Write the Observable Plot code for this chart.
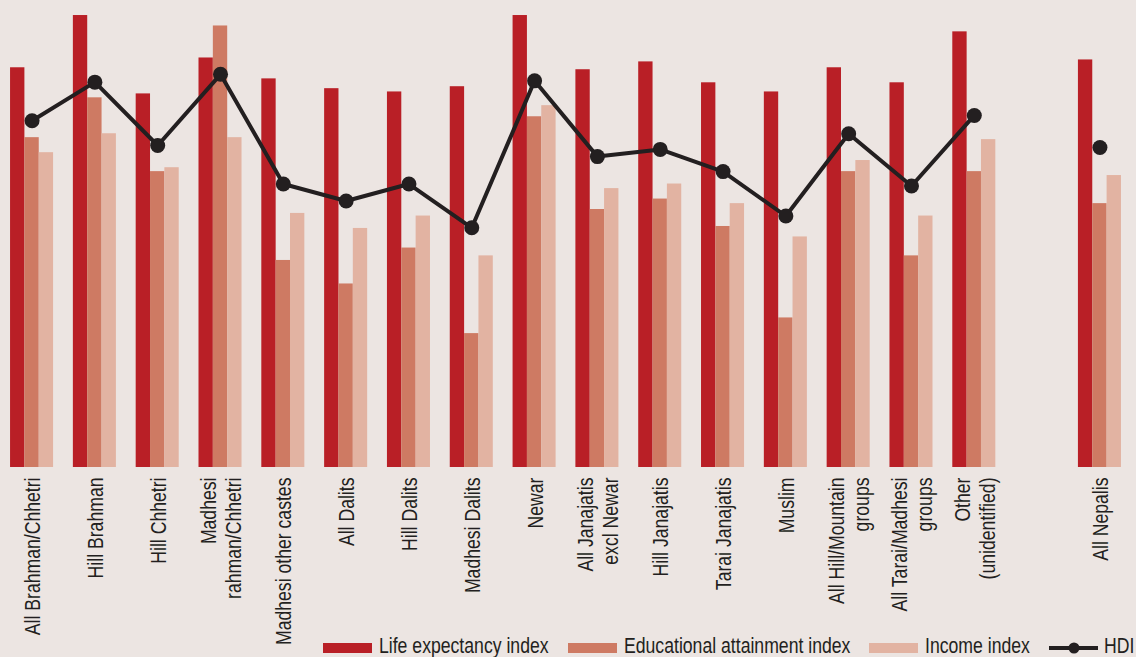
<!DOCTYPE html>
<html>
<head>
<meta charset="utf-8">
<script src="https://cdn.jsdelivr.net/npm/d3@7"></script>
<script src="https://cdn.jsdelivr.net/npm/@observablehq/plot@0.6"></script>
<style>
  html, body { margin: 0; padding: 0; background: #ece5e2; }
  body { position: relative; width: 1136px; height: 657px; overflow: hidden; }
  #chart svg { display: block; }
  #legend {
    position: absolute; left: 323px; top: 634px; height: 24px; line-height: 24px;
    display: flex; align-items: center; white-space: nowrap;
    font-family: "Liberation Sans", Arial, sans-serif;
    font-size: 21.5px; color: #231f20;
  }
  .item { display: flex; align-items: center; margin-right: 19px; }
  .sw { width: 49px; height: 10px; margin-right: 7px; position: relative; top: 2px; flex: none; }
  .hdi-sw { margin-right: 6px; position: relative; top: 2px; flex: none; }
  .lbl { display: inline-block; transform: scaleX(0.82); transform-origin: 0 50%; }
</style>
</head>
<body>
<div id="chart"></div>
<div id="legend"></div>
<script>
// ---- Data ----
const groups = [
  "All Brahman/Chhetri",
  "Hill Brahman",
  "Hill Chhetri",
  "Madhesi\nrahman/Chhetri",
  "Madhesi other castes",
  "All Dalits",
  "Hill Dalits",
  "Madhesi Dalits",
  "Newar",
  "All Janajatis\nexcl Newar",
  "Hill Janajatis",
  "Tarai Janajatis",
  "Muslim",
  "All Hill/Mountain\ngroups",
  "All Tarai/Madhesi\ngroups",
  "Other\n(unidentified)",
  "All Nepalis"
];
const lifeExpectancy = [0.612, 0.692, 0.572, 0.627, 0.595, 0.580, 0.575, 0.583, 0.692, 0.609, 0.621, 0.589, 0.575, 0.612, 0.589, 0.667, 0.624];
const educational    = [0.505, 0.566, 0.453, 0.676, 0.317, 0.281, 0.336, 0.205, 0.537, 0.395, 0.411, 0.369, 0.229, 0.453, 0.324, 0.453, 0.404];
const income         = [0.482, 0.511, 0.459, 0.505, 0.389, 0.366, 0.385, 0.324, 0.554, 0.427, 0.434, 0.404, 0.353, 0.470, 0.385, 0.502, 0.447];
const hdi            = [0.531, 0.590, 0.493, 0.602, 0.434, 0.408, 0.434, 0.367, 0.592, 0.476, 0.487, 0.453, 0.385, 0.511, 0.431, 0.539, 0.490];
const seriesNames = ["Life expectancy index", "Educational attainment index", "Income index", "HDI"];
const seriesColors = ["#b91f26", "#ce7a63", "#e2b3a2", "#231f20"];

// ---- Build table ----
const rows = groups.map((g, i) => ({
  group: g, life: lifeExpectancy[i], edu: educational[i], income: income[i], hdi: hdi[i]
}));
const GAP = "\u200b"; // empty slot before the national figure
const xDomain = [...groups.slice(0, 16), GAP, groups[16]];

const xOpts = { type: "band", domain: xDomain, paddingInner: 0.315, paddingOuter: 0.16, round: false };
const W = 1136, H = 636, mL = 0, mR = 5, mT = 0, mB = 169;
const bw = Plot.scale({ x: { ...xOpts, range: [mL, W - mR] } }).bandwidth;
const font = '"Liberation Sans", Arial, sans-serif';
const NARROW = 0.82;

const chart = Plot.plot({
  width: W, height: H,
  marginLeft: mL, marginRight: mR, marginTop: mT, marginBottom: mB,
  style: { background: "transparent", fontFamily: font, overflow: "visible" },
  x: { ...xOpts, axis: null },
  y: { domain: [0, 0.715], axis: null },
  marks: [
    Plot.barY(rows, { x: "group", y: "life", fill: seriesColors[0], insetRight: bw * 2 / 3 }),
    Plot.barY(rows, { x: "group", y: "edu", fill: seriesColors[1], insetLeft: bw / 3, insetRight: bw / 3 }),
    Plot.barY(rows, { x: "group", y: "income", fill: seriesColors[2], insetLeft: bw * 2 / 3 }),
    Plot.line(rows.slice(0, 16), { x: "group", y: "hdi", stroke: seriesColors[3], strokeWidth: 4 }),
    Plot.dot(rows, { x: "group", y: "hdi", r: 7.5, fill: seriesColors[3] }),
    Plot.text(rows, {
      x: "group", text: "group", frameAnchor: "bottom", rotate: -90,
      textAnchor: "end", lineAnchor: "middle", lineHeight: 1.15, dy: 10,
      fontSize: 21.5, fill: "#231f20", fontFamily: font, className: "xlabels"
    })
  ]
});
document.getElementById("chart").appendChild(chart);
// condense the category labels along their length (narrow typeface look)
chart.querySelectorAll(".xlabels text").forEach(t => {
  const tr = t.getAttribute("transform") || "";
  t.setAttribute("transform", tr + ` scale(${NARROW},1)`);
});

// ---- Legend ----
const legend = document.getElementById("legend");
seriesNames.forEach((name, i) => {
  const item = document.createElement("div");
  item.className = "item";
  if (i < 3) {
    const sw = document.createElement("span");
    sw.className = "sw";
    sw.style.background = seriesColors[i];
    item.appendChild(sw);
  } else {
    const ns = "http://www.w3.org/2000/svg";
    const s = document.createElementNS(ns, "svg");
    s.setAttribute("width", 49); s.setAttribute("height", 12);
    s.setAttribute("class", "hdi-sw");
    const ln = document.createElementNS(ns, "line");
    ln.setAttribute("x1", 0); ln.setAttribute("x2", 49); ln.setAttribute("y1", 6); ln.setAttribute("y2", 6);
    ln.setAttribute("stroke", seriesColors[3]); ln.setAttribute("stroke-width", 4);
    const c = document.createElementNS(ns, "circle");
    c.setAttribute("cx", 25); c.setAttribute("cy", 6); c.setAttribute("r", 5.5);
    c.setAttribute("fill", seriesColors[3]);
    s.appendChild(ln); s.appendChild(c);
    item.appendChild(s);
    item.style.marginRight = "0";
  }
  const t = document.createElement("span");
  t.className = "lbl";
  t.textContent = name;
  item.appendChild(t);
  legend.appendChild(item);
  const w = t.offsetWidth;
  t.style.marginRight = (-(1 - NARROW) * w) + "px";
});
</script>
</body>
</html>
